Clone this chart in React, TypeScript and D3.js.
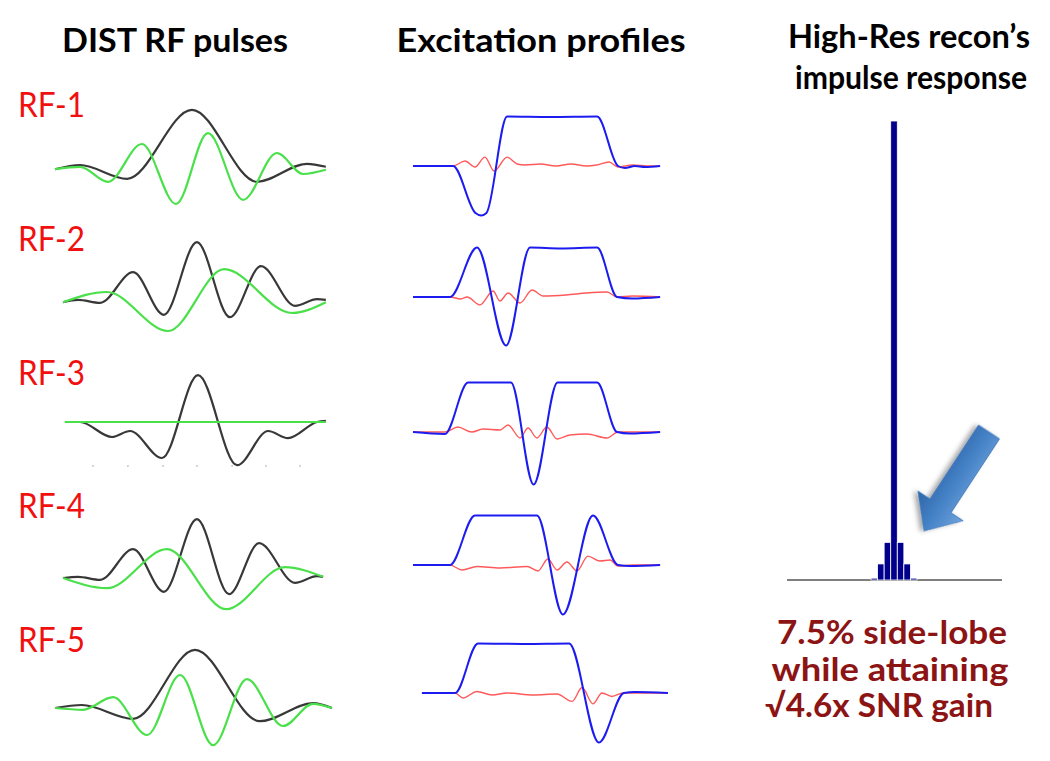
import React from 'react';
import * as d3 from 'd3';

type Pt = [number, number];

// ---------- DATA ----------
// RF pulses: [time 0..100, amplitude]
const rf1Black: Pt[] = [[0,-0.02],[9.1,0.05],[26.2,-0.18],[49.8,0.97],[73.5,-0.23],[91.6,0.07],[98.5,0.02]];
const rf1Green: Pt[] = [[0,-0.02],[9.1,0.02],[19.3,-0.23],[31.6,0.4],[44,-0.6],[55.6,0.58],[68.4,-0.53],[80.7,0.25],[90.2,-0.1],[98.5,-0.03]];
const rf2Black: Pt[] = [[2.9,-0.02],[8.4,0.02],[16.4,-0.03],[28.4,0.48],[39.6,-0.23],[51.6,0.98],[63.6,-0.27],[74.9,0.58],[87.3,-0.08],[95.3,0.03],[98.5,0.02]];
const rf2Green: Pt[] = [[2.9,-0.02],[18.9,0.15],[41.1,-0.5],[61.5,0.53],[86.2,-0.2],[98.5,-0.02]];
const rf3Black: Pt[] = [[3.6,0],[9.1,0],[20.7,-0.25],[27.3,-0.15],[38.9,-0.6],[52,0.78],[66.2,-0.72],[77.5,-0.15],[84.7,-0.27],[95.3,0],[98.5,0.02]];
const rf3Green: Pt[] = [[3.6,0],[98.5,0]];
const rf4Black: Pt[] = [[2.9,0],[8.4,0.02],[16.4,-0.03],[28.4,0.48],[39.6,-0.23],[51.6,0.98],[63.3,-0.27],[74.2,0.58],[87.3,-0.08],[95.3,0.03],[97.5,0.02]];
const rf4Green: Pt[] = [[2.9,0],[18.9,-0.17],[40.7,0.48],[62.2,-0.52],[83.6,0.18],[97.5,0.02]];
const rf5Black: Pt[] = [[0,0],[9.8,0.05],[28.4,-0.18],[50.9,0.97],[74.5,-0.22],[93.8,0.08],[100.7,0]];
const rf5Green: Pt[] = [[0,0],[10.2,-0.03],[21.1,0.18],[33.5,-0.45],[45.5,0.55],[57.5,-0.62],[69.8,0.48],[82.9,-0.3],[93.8,0.07],[100.7,0]];
const rf3TickTimes = [13.8, 26.5, 39.3, 51.6, 64.4, 76.7, 89.1];

// Excitation profiles: [position 0..100, magnetisation]
const ex1Blue: Pt[] = [[0,0],[15.7,0],[24.5,-0.95],[26.7,-1],[28.8,-0.95],[36.9,1],[53.7,0.99],[72.2,1],[80.4,0],[83.1,-0.04],[87,0],[91,-0.02],[96.9,0]];
const ex1Red: Pt[] = [[0,0],[15.7,0],[20.4,0.1],[24.3,-0.02],[28.2,0.18],[31.8,-0.1],[36.9,0.18],[40.8,0.04],[44,0.02],[50,0.04],[56,0],[62,0.04],[68,0],[72,0.02],[76.9,0.08],[80.4,-0.02],[86,0.02],[92,0],[96.9,0]];
const ex2Blue: Pt[] = [[0,0],[14.5,0],[25.1,1],[36.5,-0.98],[45.9,1],[58,0.98],[72.2,1],[80,0],[86,-0.03],[96.9,0]];
const ex2Red: Pt[] = [[0,0],[14.5,0],[18.8,-0.04],[21.2,0],[26.3,-0.16],[31.4,0.12],[34.1,-0.08],[37.3,0.08],[42,-0.12],[46.7,0.14],[51,0.02],[60,0.04],[68,0.08],[76.1,0.1],[80,0],[86,0.02],[96.9,0]];
const ex3Blue: Pt[] = [[0,0],[12.5,-0.04],[21.6,1],[38.4,1],[47.3,-1.06],[56.7,1],[72.2,1],[80,0],[85,-0.03],[96.9,0]];
const ex3Red: Pt[] = [[0,0],[12.5,0],[17.6,0.1],[23.1,0],[27.5,0.06],[34.1,0.04],[37.3,0.14],[42,-0.12],[45.1,0.08],[48.6,-0.12],[52.5,0.1],[56.5,-0.14],[61.6,-0.06],[68.2,-0.04],[76.1,-0.12],[80.4,0],[86.3,0],[96.9,0]];
const ex4Blue: Pt[] = [[0,0],[14.5,0],[24.3,1],[48.6,1],[58.8,-1],[70.6,1],[80.4,0],[85,-0.02],[96.9,0]];
const ex4Red: Pt[] = [[0,0],[14.5,0],[19.2,-0.1],[25.1,-0.03],[34.1,-0.06],[44.7,-0.03],[49,-0.12],[52.9,0.12],[56.5,-0.1],[60.4,0.06],[64.3,-0.12],[68.6,0.18],[73.3,0.08],[77.3,0.1],[80.4,-0.02],[86,0],[96.9,0]];
const ex5Blue: Pt[] = [[3.5,0],[16.5,0],[25.5,1],[44,0.99],[61.2,1],[72.9,-1],[82.7,0],[87,0.02],[100,0]];
const ex5Red: Pt[] = [[3.5,0],[16.5,0],[19.6,-0.1],[25.1,0.03],[31,-0.04],[36.9,0],[47.1,-0.04],[56.5,-0.02],[62.4,-0.17],[66.3,0.11],[70.6,-0.22],[74.1,0],[78,-0.07],[82.4,0],[90,0],[100,0]];

// Impulse response
const impulseOffsets = [-3, -2, -1, 0, 1, 2, 3];
const impulseValues = [0.004, 0.035, 0.082, 1, 0.082, 0.035, 0.004];

// Text
const rfLabels = ['RF-1', 'RF-2', 'RF-3', 'RF-4', 'RF-5'];
const colTitle1 = 'DIST RF pulses';
const colTitle2 = 'Excitation profiles';
const colTitle3 = ['High-Res recon\u2019s', 'impulse response'];
const noteLines = ['7.5% side-lobe', 'while attaining', '\u221A4.6x SNR gain'];

const rfBlack = [rf1Black, rf2Black, rf3Black, rf4Black, rf5Black];
const rfGreen = [rf1Green, rf2Green, rf3Green, rf4Green, rf5Green];
const exBlue = [ex1Blue, ex2Blue, ex3Blue, ex4Blue, ex5Blue];
const exRed = [ex1Red, ex2Red, ex3Red, ex4Red, ex5Red];

// ---------- LAYOUT ----------
const W = 1050, H = 761;
const rfBaselines = [168, 301, 422, 578, 708];
const rfLabelBaselines = [117, 251, 385, 518, 652];
const exBaselines = [166, 297, 432, 565, 693];
const FONT = "Lato, 'Open Sans', sans-serif";

export default function App() {
  const rfX = d3.scaleLinear().domain([0, 100]).range([55, 330]);
  const exX = d3.scaleLinear().domain([0, 100]).range([413, 668]);

  const rfY = (b: number) => d3.scaleLinear().domain([-1, 1]).range([b + 60, b - 60]);
  const exY = (b: number) => d3.scaleLinear().domain([-1, 1]).range([b + 49.5, b - 49.5]);

  const mkLine = (xs: d3.ScaleLinear<number, number>, ys: d3.ScaleLinear<number, number>) =>
    d3.line<Pt>().x(d => xs(d[0])).y(d => ys(d[1])).curve(d3.curveMonotoneX);

  // impulse
  const impBase = 580;
  const impX = d3.scaleBand<number>().domain(impulseOffsets).range([871, 917]).padding(0);
  const impY = d3.scaleLinear().domain([0, 1]).range([impBase, 121]);

  // arrow geometry (local frame: tail at 0, tip at +len along x)
  const tail = [989, 432];
  const tip = [924, 531];
  const dx = tip[0] - tail[0], dy = tip[1] - tail[1];
  const len = Math.hypot(dx, dy);
  const ang = (Math.atan2(dy, dx) * 180) / Math.PI;
  const sw = 12.5, hw = 27, hl = 30;
  const arrowPts = [
    [0, -sw], [len - hl, -sw], [len - hl, -hw], [len, 0], [len - hl, hw], [len - hl, sw], [0, sw],
  ].map(p => p.join(',')).join(' ');

  return (
    <svg width={W} height={H} style={{ position: 'absolute', left: 0, top: 0, background: '#fff' }}
      xmlns="http://www.w3.org/2000/svg">
      <defs>
        <linearGradient id="arrowGrad" x1="0" y1="0" x2="0" y2="1">
          <stop offset="0" stopColor="#6fa3dc" />
          <stop offset="0.5" stopColor="#4582c6" />
          <stop offset="1" stopColor="#2f64a8" />
        </linearGradient>
        <filter id="shadow" x="-30%" y="-30%" width="160%" height="160%">
          <feDropShadow dx="2" dy="3" stdDeviation="2.5" floodColor="#000" floodOpacity="0.35" />
        </filter>
      </defs>
      <rect x={0} y={0} width={W} height={H} fill="#fff" />

      {/* column titles */}
      <text x={175} y={52} textAnchor="middle" fontFamily={FONT} fontWeight="bold" fontSize={33}
        textLength={226} lengthAdjust="spacingAndGlyphs" fill="#000">{colTitle1}</text>
      <text x={541} y={52} textAnchor="middle" fontFamily={FONT} fontWeight="bold" fontSize={33}
        textLength={289} lengthAdjust="spacingAndGlyphs" fill="#000">{colTitle2}</text>
      <text x={909} y={48} textAnchor="middle" fontFamily={FONT} fontWeight="bold" fontSize={33}
        textLength={242} lengthAdjust="spacingAndGlyphs" fill="#000">{colTitle3[0]}</text>
      <text x={911} y={89} textAnchor="middle" fontFamily={FONT} fontWeight="bold" fontSize={33}
        textLength={232} lengthAdjust="spacingAndGlyphs" fill="#000">{colTitle3[1]}</text>

      {/* RF pulses */}
      {rfLabels.map((lab, i) => {
        const ys = rfY(rfBaselines[i]);
        const line = mkLine(rfX, ys);
        return (
          <g key={lab}>
            <text x={18} y={rfLabelBaselines[i]} fontFamily={FONT} fontSize={34} fill="#f01010"
              textLength={67} lengthAdjust="spacingAndGlyphs">{lab}</text>
            <path d={line(rfBlack[i]) || ''} fill="none" stroke="#383838" strokeWidth={2.2} />
            <path d={line(rfGreen[i]) || ''} fill="none" stroke="#4ae04a" strokeWidth={2.2} />
            {i === 2 && rf3TickTimes.map(t => (
              <line key={t} x1={rfX(t)} x2={rfX(t)} y1={465} y2={467} stroke="#c8c8c8" strokeWidth={1.5} />
            ))}
          </g>
        );
      })}

      {/* Excitation profiles */}
      {exBaselines.map((b, i) => {
        const line = mkLine(exX, exY(b));
        return (
          <g key={'ex' + i}>
            <path d={line(exRed[i]) || ''} fill="none" stroke="#ff5a5a" strokeWidth={1.4} />
            <path d={line(exBlue[i]) || ''} fill="none" stroke="#1c1cf0" strokeWidth={2} />
          </g>
        );
      })}

      {/* Impulse response */}
      <line x1={787} x2={1002} y1={impBase} y2={impBase} stroke="#555" strokeWidth={1.5} />
      {impulseOffsets.map((o, i) => (
        <rect key={o} x={impX(o)} width={impX.bandwidth()} y={impY(impulseValues[i])}
          height={impBase - impY(impulseValues[i])} fill="#00008c" stroke="#fff" strokeWidth={0.8} />
      ))}

      {/* Arrow */}
      <g transform={`translate(${tail[0]},${tail[1]}) rotate(${ang})`} filter="url(#shadow)">
        <polygon points={arrowPts} fill="url(#arrowGrad)" stroke="#3a72b8" strokeWidth={0.8} />
      </g>

      {/* Note */}
      {noteLines.map((t, i) => (
        <text key={t} x={[892, 890, 879][i]} y={[644, 681, 717][i]} textAnchor="middle" fontFamily={FONT}
          fontWeight="bold" fontSize={32} fill="#8c1414"
          textLength={[230, 237, 228][i]} lengthAdjust="spacingAndGlyphs">{t}</text>
      ))}
    </svg>
  );
}
